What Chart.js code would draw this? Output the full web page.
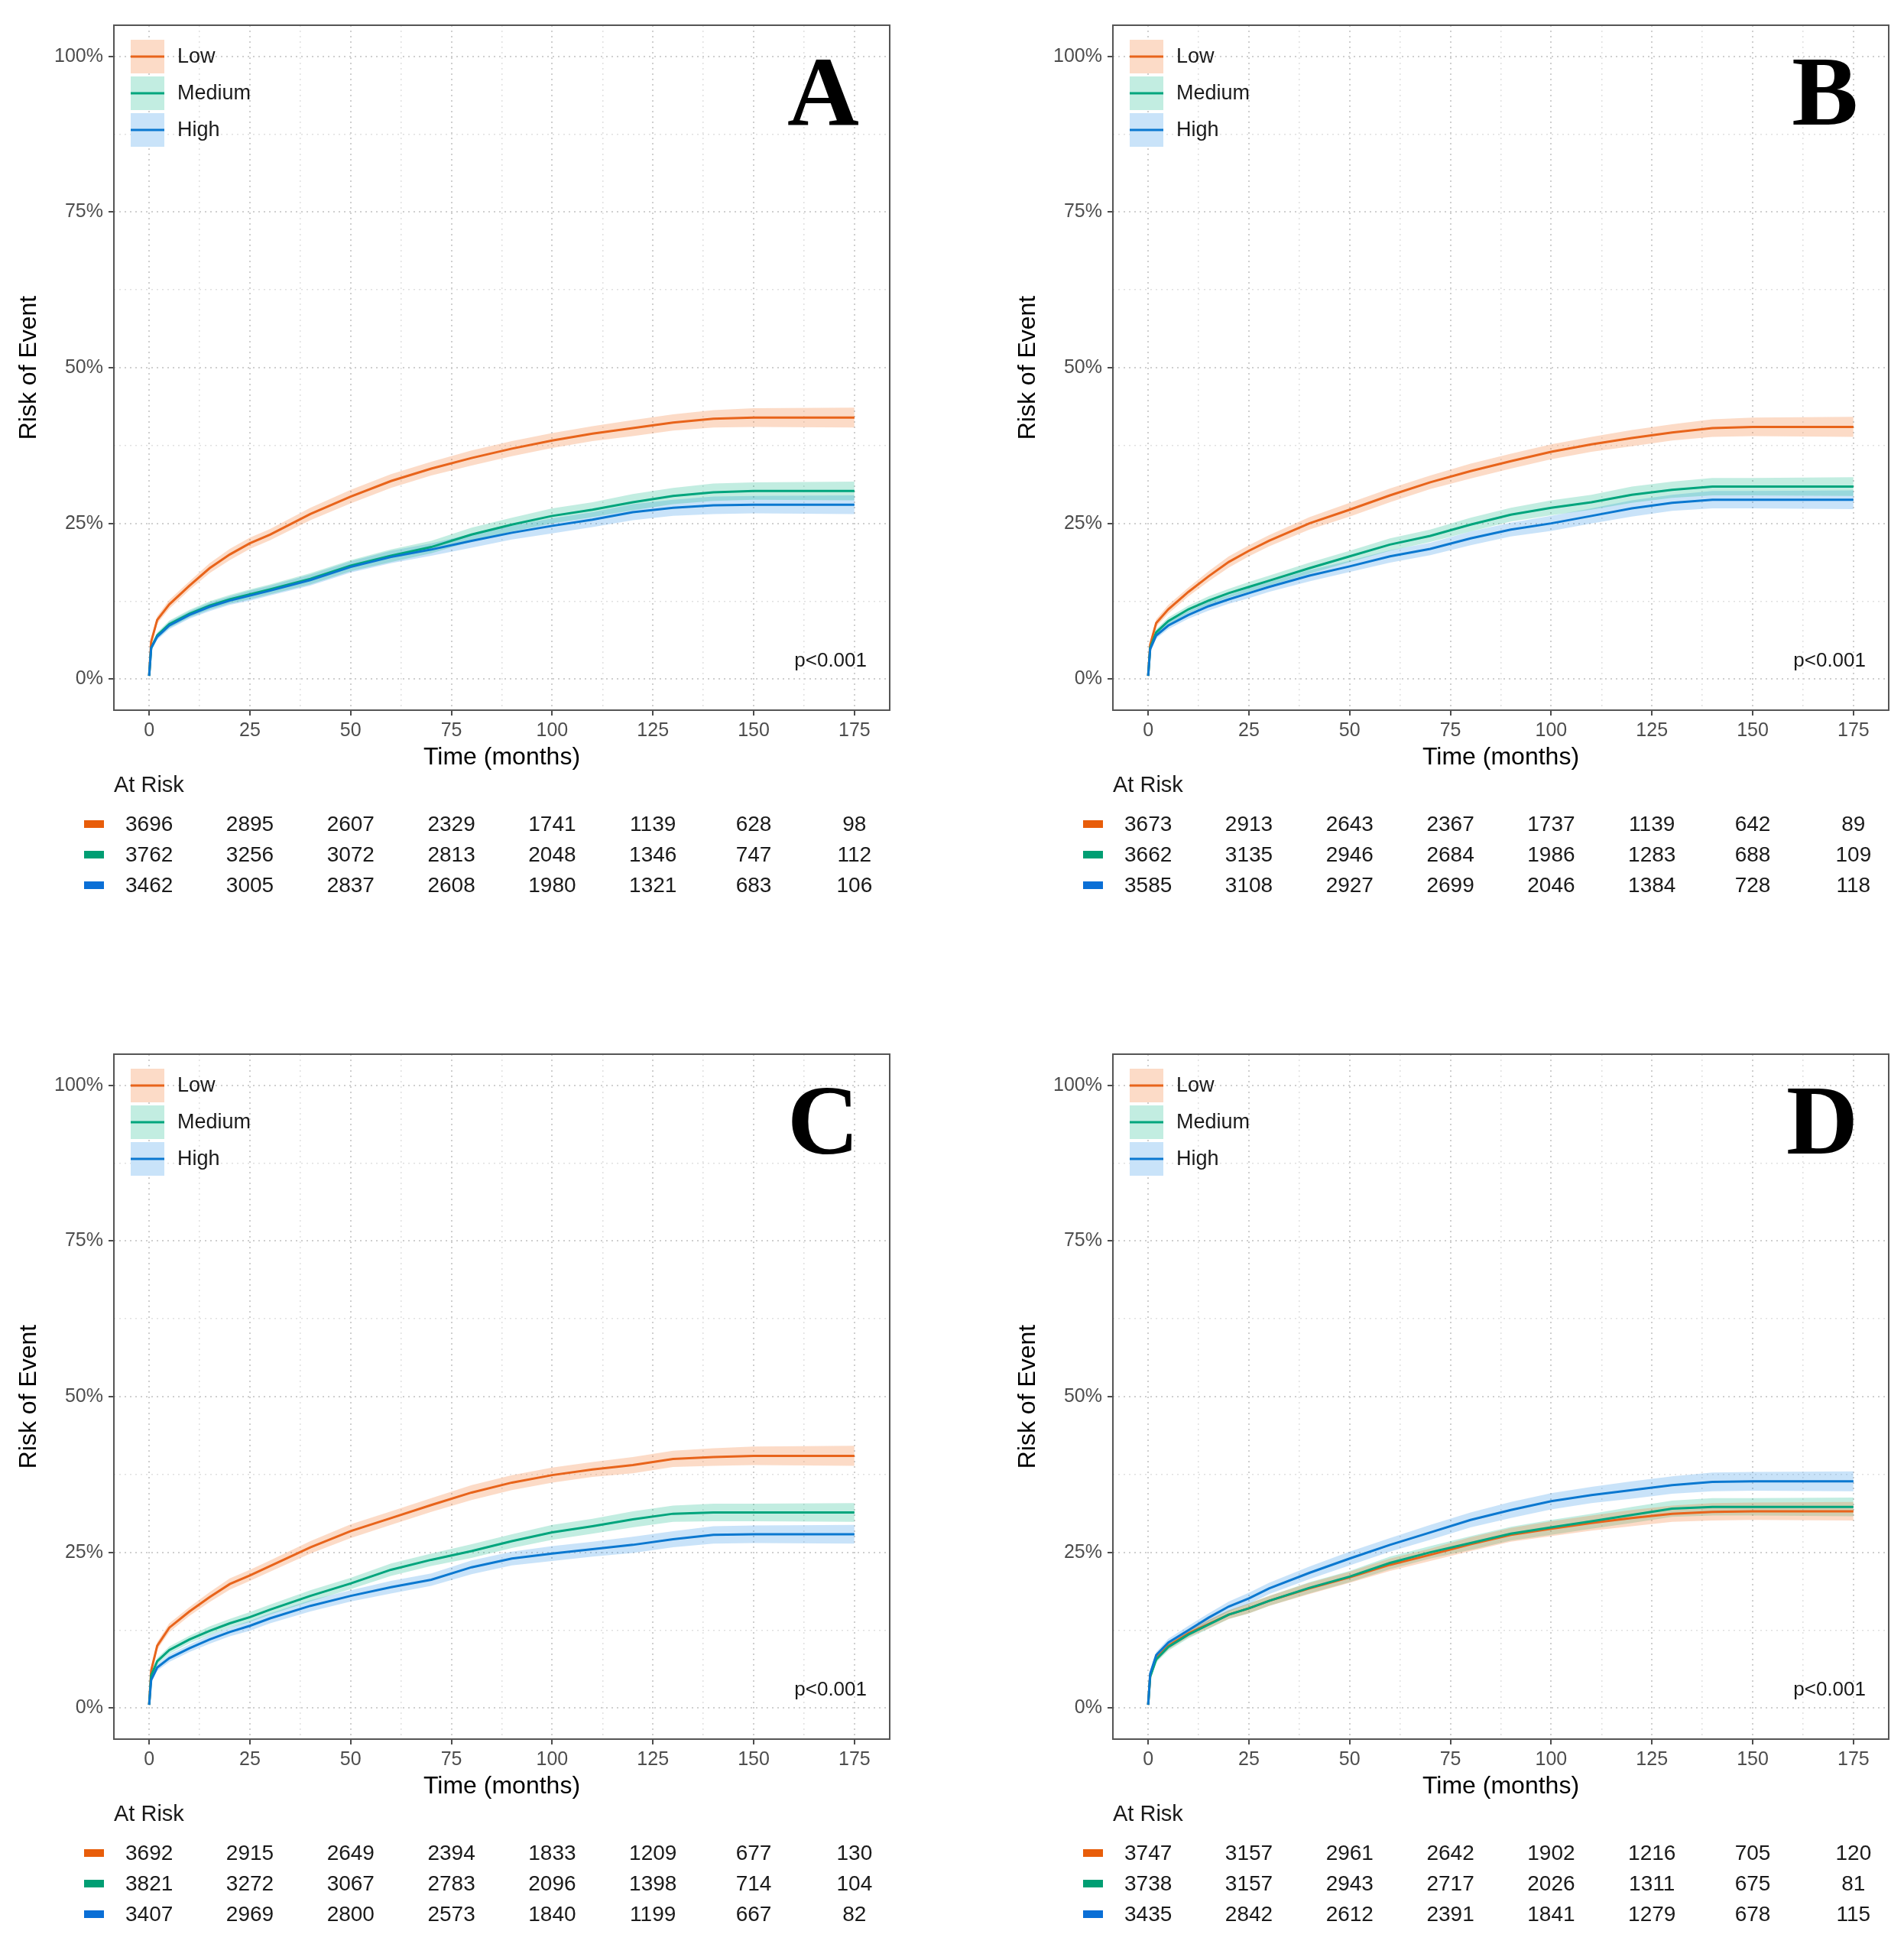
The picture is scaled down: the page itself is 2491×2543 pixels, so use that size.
<!DOCTYPE html>
<html>
<head>
<meta charset="utf-8">
<script src="https://cdn.jsdelivr.net/npm/chart.js@4.4.1/dist/chart.umd.min.js"></script>
<style>
  html, body { margin: 0; padding: 0; background: #fff; }
  body { width: 2491px; height: 2543px; position: relative; overflow: hidden; }
  canvas { position: absolute; }
</style>
</head>
<body>
<canvas id="panelA" width="1184" height="1197" style="left:0px;top:0px"></canvas>
<canvas id="panelB" width="1184" height="1197" style="left:1307px;top:0px"></canvas>
<canvas id="panelC" width="1184" height="1197" style="left:0px;top:1346px"></canvas>
<canvas id="panelD" width="1184" height="1197" style="left:1307px;top:1346px"></canvas>
<script>
const times = [0, 0.5, 2, 5, 10, 15, 20, 25, 30, 40, 50, 60, 70, 80, 90, 100, 110, 120, 130, 140, 150, 175];
const groups = ['Low', 'Medium', 'High'];
const xTickValues = [0, 25, 50, 75, 100, 125, 150, 175];
const yTickValues = [0, 25, 50, 75, 100];
const xGridValues = [0, 12.5, 25, 37.5, 50, 62.5, 75, 87.5, 100, 112.5, 125, 137.5, 150, 162.5, 175];
const yGridValues = [0, 12.5, 25, 37.5, 50, 62.5, 75, 87.5, 100];
const pValueText = 'p<0.001';

// Panel A - risk of event (%)
const lowA     = [0.5, 6.0, 9.5, 12.0, 15.0, 17.8, 20.0, 21.8, 23.2, 26.5, 29.3, 31.8, 33.8, 35.5, 37.0, 38.3, 39.4, 40.3, 41.2, 41.8, 42.0, 42.0];
const lowA_lo  = [0.3, 5.4, 8.9, 11.3, 14.3, 17.0, 19.1, 20.9, 22.3, 25.5, 28.2, 30.7, 32.7, 34.3, 35.8, 37.1, 38.2, 39.0, 39.9, 40.4, 40.5, 40.4];
const lowA_hi  = [0.7, 6.6, 10.1, 12.7, 15.7, 18.6, 20.9, 22.7, 24.1, 27.5, 30.4, 32.9, 34.9, 36.7, 38.2, 39.5, 40.6, 41.6, 42.5, 43.2, 43.5, 43.6];
const medA     = [0.5, 5.0, 7.0, 8.8, 10.5, 11.8, 12.8, 13.6, 14.4, 16.1, 18.2, 19.8, 21.2, 23.2, 24.8, 26.2, 27.2, 28.4, 29.4, 30.0, 30.2, 30.2];
const medA_lo  = [0.3, 4.5, 6.5, 8.2, 9.9, 11.1, 12.1, 12.8, 13.6, 15.2, 17.3, 18.8, 20.2, 22.1, 23.7, 25.0, 26.0, 27.1, 28.1, 28.6, 28.8, 28.7];
const medA_hi  = [0.7, 5.5, 7.5, 9.4, 11.1, 12.5, 13.5, 14.4, 15.2, 17.0, 19.1, 20.8, 22.2, 24.3, 25.9, 27.4, 28.4, 29.7, 30.7, 31.4, 31.6, 31.7];
const highA    = [0.5, 5.0, 6.8, 8.6, 10.3, 11.6, 12.6, 13.4, 14.2, 15.9, 18.0, 19.6, 20.8, 22.2, 23.5, 24.6, 25.6, 26.8, 27.5, 27.9, 28.0, 28.0];
const highA_lo = [0.3, 4.5, 6.3, 8.0, 9.7, 10.9, 11.9, 12.6, 13.4, 15.0, 17.1, 18.6, 19.8, 21.1, 22.4, 23.4, 24.4, 25.5, 26.2, 26.5, 26.6, 26.5];
const highA_hi = [0.7, 5.5, 7.3, 9.2, 10.9, 12.3, 13.3, 14.2, 15.0, 16.8, 18.9, 20.6, 21.8, 23.3, 24.6, 25.8, 26.8, 28.1, 28.8, 29.3, 29.4, 29.5];

// Panel B
const lowB     = [0.5, 5.5, 9.0, 11.2, 14.0, 16.5, 18.8, 20.6, 22.2, 25.0, 27.2, 29.5, 31.6, 33.4, 35.0, 36.5, 37.7, 38.7, 39.6, 40.3, 40.5, 40.5];
const lowB_lo  = [0.3, 4.9, 8.4, 10.5, 13.3, 15.7, 17.9, 19.7, 21.3, 24.0, 26.1, 28.4, 30.5, 32.2, 33.8, 35.3, 36.5, 37.4, 38.3, 38.9, 39.0, 38.9];
const lowB_hi  = [0.7, 6.1, 9.6, 11.9, 14.7, 17.3, 19.7, 21.5, 23.1, 26.0, 28.3, 30.6, 32.7, 34.6, 36.2, 37.7, 38.9, 40.0, 40.9, 41.7, 42.0, 42.1];
const medB     = [0.5, 5.0, 7.5, 9.3, 11.2, 12.6, 13.8, 14.8, 15.8, 17.8, 19.7, 21.6, 23.0, 24.8, 26.4, 27.5, 28.4, 29.6, 30.4, 30.9, 30.9, 30.9];
const medB_lo  = [0.3, 4.5, 7.0, 8.7, 10.6, 11.9, 13.1, 14.0, 15.0, 16.9, 18.8, 20.6, 22.0, 23.7, 25.3, 26.3, 27.2, 28.3, 29.1, 29.5, 29.5, 29.4];
const medB_hi  = [0.7, 5.5, 8.0, 9.9, 11.8, 13.3, 14.5, 15.6, 16.6, 18.7, 20.6, 22.6, 24.0, 25.9, 27.5, 28.7, 29.6, 30.9, 31.7, 32.3, 32.3, 32.4];
const highB    = [0.5, 4.8, 7.0, 8.6, 10.3, 11.7, 12.8, 13.8, 14.8, 16.6, 18.1, 19.7, 20.9, 22.6, 24.0, 25.0, 26.2, 27.4, 28.3, 28.8, 28.8, 28.8];
const highB_lo = [0.3, 4.3, 6.5, 8.0, 9.7, 11.0, 12.1, 13.0, 14.0, 15.7, 17.2, 18.7, 19.9, 21.5, 22.9, 23.8, 25.0, 26.1, 27.0, 27.4, 27.4, 27.3];
const highB_hi = [0.7, 5.3, 7.5, 9.2, 10.9, 12.4, 13.5, 14.6, 15.6, 17.5, 19.0, 20.7, 21.9, 23.7, 25.1, 26.2, 27.4, 28.7, 29.6, 30.2, 30.2, 30.3];

// Panel C
const lowC     = [0.5, 6.0, 10.0, 12.9, 15.5, 17.8, 19.9, 21.3, 22.8, 25.8, 28.4, 30.5, 32.6, 34.6, 36.2, 37.4, 38.3, 39.0, 40.0, 40.3, 40.5, 40.5];
const lowC_lo  = [0.3, 5.4, 9.4, 12.2, 14.8, 17.0, 19.0, 20.4, 21.9, 24.8, 27.3, 29.4, 31.5, 33.4, 35.0, 36.2, 37.1, 37.7, 38.7, 38.9, 39.0, 38.9];
const lowC_hi  = [0.7, 6.6, 10.6, 13.6, 16.2, 18.6, 20.8, 22.2, 23.7, 26.8, 29.5, 31.6, 33.7, 35.8, 37.4, 38.6, 39.5, 40.3, 41.3, 41.7, 42.0, 42.1];
const medC     = [0.5, 5.2, 7.5, 9.3, 11.0, 12.4, 13.6, 14.6, 15.8, 18.0, 20.0, 22.2, 23.8, 25.2, 26.8, 28.2, 29.2, 30.3, 31.2, 31.4, 31.4, 31.4];
const medC_lo  = [0.3, 4.7, 7.0, 8.7, 10.4, 11.7, 12.9, 13.8, 15.0, 17.1, 19.1, 21.2, 22.8, 24.1, 25.7, 27.0, 28.0, 29.0, 29.9, 30.0, 30.0, 29.9];
const medC_hi  = [0.7, 5.7, 8.0, 9.9, 11.6, 13.1, 14.3, 15.4, 16.6, 18.9, 20.9, 23.2, 24.8, 26.3, 27.9, 29.4, 30.4, 31.6, 32.5, 32.8, 32.8, 32.9];
const highC    = [0.5, 4.5, 6.5, 8.0, 9.6, 11.0, 12.2, 13.2, 14.4, 16.4, 18.0, 19.4, 20.6, 22.6, 24.0, 24.8, 25.5, 26.2, 27.1, 27.8, 27.9, 27.9];
const highC_lo = [0.3, 4.0, 6.0, 7.4, 9.0, 10.3, 11.5, 12.4, 13.6, 15.5, 17.1, 18.4, 19.6, 21.5, 22.9, 23.6, 24.3, 24.9, 25.8, 26.4, 26.5, 26.4];
const highC_hi = [0.7, 5.0, 7.0, 8.6, 10.2, 11.7, 12.9, 14.0, 15.2, 17.3, 18.9, 20.4, 21.6, 23.7, 25.1, 26.0, 26.7, 27.5, 28.4, 29.2, 29.3, 29.4];

// Panel D
const lowD     = [0.5, 5.2, 8.0, 10.0, 12.0, 13.5, 15.0, 16.0, 17.2, 19.2, 21.0, 23.0, 24.6, 26.3, 27.8, 28.8, 29.7, 30.5, 31.2, 31.5, 31.6, 31.6];
const lowD_lo  = [0.3, 4.7, 7.5, 9.4, 11.4, 12.8, 14.3, 15.2, 16.4, 18.3, 20.1, 22.0, 23.6, 25.2, 26.7, 27.6, 28.5, 29.2, 29.9, 30.1, 30.2, 30.1];
const lowD_hi  = [0.7, 5.7, 8.5, 10.6, 12.6, 14.2, 15.7, 16.8, 18.0, 20.1, 21.9, 24.0, 25.6, 27.4, 28.9, 30.0, 30.9, 31.8, 32.5, 32.9, 33.0, 33.1];
const medD     = [0.5, 5.0, 7.8, 9.8, 11.8, 13.4, 15.0, 16.0, 17.2, 19.3, 21.1, 23.3, 25.0, 26.5, 28.0, 29.0, 30.0, 31.0, 32.0, 32.3, 32.3, 32.3];
const medD_lo  = [0.3, 4.5, 7.3, 9.2, 11.2, 12.7, 14.3, 15.2, 16.4, 18.4, 20.2, 22.3, 24.0, 25.4, 26.9, 27.8, 28.8, 29.7, 30.7, 30.9, 30.9, 30.8];
const medD_hi  = [0.7, 5.5, 8.3, 10.4, 12.4, 14.1, 15.7, 16.8, 18.0, 20.2, 22.0, 24.3, 26.0, 27.6, 29.1, 30.2, 31.2, 32.3, 33.3, 33.7, 33.7, 33.8];
const highD    = [0.5, 5.5, 8.5, 10.5, 12.5, 14.5, 16.3, 17.6, 19.2, 21.7, 24.0, 26.2, 28.2, 30.2, 31.8, 33.2, 34.2, 35.0, 35.8, 36.3, 36.4, 36.4];
const highD_lo = [0.3, 5.0, 8.0, 9.9, 11.8, 13.8, 15.5, 16.7, 18.3, 20.7, 22.9, 25.1, 27.0, 29.0, 30.5, 31.9, 32.9, 33.6, 34.4, 34.8, 34.9, 34.8];
const highD_hi = [0.7, 6.0, 9.0, 11.1, 13.2, 15.2, 17.1, 18.5, 20.1, 22.7, 25.1, 27.3, 29.4, 31.4, 33.1, 34.5, 35.5, 36.4, 37.2, 37.8, 37.9, 38.0];

// numbers at risk at 0, 25, ... 175 months
const atRiskLowA  = [3696, 2895, 2607, 2329, 1741, 1139, 628, 98];
const atRiskMedA  = [3762, 3256, 3072, 2813, 2048, 1346, 747, 112];
const atRiskHighA = [3462, 3005, 2837, 2608, 1980, 1321, 683, 106];
const atRiskLowB  = [3673, 2913, 2643, 2367, 1737, 1139, 642, 89];
const atRiskMedB  = [3662, 3135, 2946, 2684, 1986, 1283, 688, 109];
const atRiskHighB = [3585, 3108, 2927, 2699, 2046, 1384, 728, 118];
const atRiskLowC  = [3692, 2915, 2649, 2394, 1833, 1209, 677, 130];
const atRiskMedC  = [3821, 3272, 3067, 2783, 2096, 1398, 714, 104];
const atRiskHighC = [3407, 2969, 2800, 2573, 1840, 1199, 667, 82];
const atRiskLowD  = [3747, 3157, 2961, 2642, 1902, 1216, 705, 120];
const atRiskMedD  = [3738, 3157, 2943, 2717, 2026, 1311, 675, 81];
const atRiskHighD = [3435, 2842, 2612, 2391, 1841, 1279, 678, 115];

const lineColors = ['#E8641B', '#00A57D', '#0B78D0'];
const bandColors = ['rgba(244,125,55,0.28)', 'rgba(0,178,130,0.24)', 'rgba(30,140,230,0.24)'];
const swatchColors = ['#E85D0A', '#009E73', '#0A6FD6'];

const FONT = "'Liberation Sans', Arial, Helvetica, sans-serif";
Chart.defaults.font.family = FONT;

function pts(arr) {
  return times.map((t, i) => ({ x: t, y: arr[i] }));
}

// legend, panel letter, p value, axis titles and the at-risk table
const panelDecor = {
  id: 'panelDecor',
  afterDraw(chart, args, opts) {
    const { ctx, chartArea: area, scales } = chart;
    const xs = scales.x;
    ctx.save();

    // panel border
    ctx.strokeStyle = '#555555';
    ctx.lineWidth = 2;
    ctx.strokeRect(area.left, area.top, area.right - area.left, area.bottom - area.top);

    // legend inside the panel
    groups.forEach((g, i) => {
      const kx = area.left + 22;
      const cy = area.top + 41 + i * 48;
      ctx.fillStyle = '#ffffff';
      ctx.fillRect(kx, cy - 22, 44, 44);
      ctx.fillStyle = bandColors[i];
      ctx.fillRect(kx, cy - 22, 44, 44);
      ctx.strokeStyle = lineColors[i];
      ctx.lineWidth = 3;
      ctx.beginPath();
      ctx.moveTo(kx, cy);
      ctx.lineTo(kx + 44, cy);
      ctx.stroke();
      ctx.fillStyle = '#1a1a1a';
      ctx.font = '27px ' + FONT;
      ctx.textAlign = 'left';
      ctx.textBaseline = 'middle';
      ctx.fillText(g, kx + 61, cy + 1);
    });

    // panel letter
    ctx.fillStyle = '#000000';
    ctx.font = 'bold 130px "Liberation Serif", "Times New Roman", serif';
    ctx.textAlign = 'right';
    ctx.textBaseline = 'alphabetic';
    ctx.fillText(opts.letter, area.right - 40, area.top + 130);

    // p value
    ctx.font = '26px ' + FONT;
    ctx.fillStyle = '#1a1a1a';
    ctx.textBaseline = 'middle';
    ctx.fillText(pValueText, area.right - 30, area.bottom - 64);

    // y axis title
    ctx.save();
    ctx.translate(38, (area.top + area.bottom) / 2);
    ctx.rotate(-Math.PI / 2);
    ctx.textAlign = 'center';
    ctx.font = '32px ' + FONT;
    ctx.fillStyle = '#000000';
    ctx.fillText('Risk of Event', 0, 0);
    ctx.restore();

    // x axis title
    const xMid = (xs.getPixelForValue(xTickValues[0]) + xs.getPixelForValue(xTickValues[xTickValues.length - 1])) / 2;
    ctx.textAlign = 'center';
    ctx.font = '32px ' + FONT;
    ctx.fillStyle = '#000000';
    ctx.fillText('Time (months)', xMid, area.bottom + 62);

    // at risk table
    ctx.textAlign = 'left';
    ctx.font = '29px ' + FONT;
    ctx.fillStyle = '#1a1a1a';
    ctx.fillText('At Risk', area.left, area.bottom + 99);

    opts.atRisk.forEach((row, r) => {
      const ry = area.bottom + 149 + r * 40;
      ctx.fillStyle = swatchColors[r];
      ctx.fillRect(110, ry - 5, 26, 10);
      ctx.fillStyle = '#1a1a1a';
      ctx.font = '28px ' + FONT;
      ctx.textAlign = 'center';
      row.forEach((n, j) => {
        ctx.fillText(String(n), xs.getPixelForValue(xTickValues[j]), ry + 1);
      });
    });

    ctx.restore();
  }
};

function makePanel(canvasId, letter, curves, atRisk) {
  const datasets = [];
  curves.forEach((c, g) => {
    datasets.push({
      label: groups[g],
      data: pts(c[0]),
      borderColor: lineColors[g],
      borderWidth: 3,
      pointRadius: 0,
      tension: 0,
      fill: false,
      order: 3 - g
    });
  });
  curves.forEach((c, g) => {
    const upperIndex = datasets.length;
    datasets.push({
      label: groups[g] + ' upper',
      data: pts(c[2]),
      borderColor: 'transparent',
      borderWidth: 0,
      pointRadius: 0,
      backgroundColor: bandColors[g],
      fill: upperIndex + 1,
      order: 10
    });
    datasets.push({
      label: groups[g] + ' lower',
      data: pts(c[1]),
      borderColor: 'transparent',
      borderWidth: 0,
      pointRadius: 0,
      fill: false,
      order: 10
    });
  });

  new Chart(document.getElementById(canvasId), {
    type: 'line',
    data: { datasets: datasets },
    options: {
      responsive: false,
      animation: false,
      devicePixelRatio: 1,
      layout: { padding: { left: 0, top: 33, right: 20, bottom: 0 } },
      plugins: {
        legend: { display: false },
        tooltip: { enabled: false },
        panelDecor: { letter: letter, atRisk: atRisk }
      },
      scales: {
        x: {
          type: 'linear',
          min: -8.75,
          max: 183.75,
          afterBuildTicks: s => { s.ticks = xGridValues.map(v => ({ value: v })); },
          afterFit: s => { s.height = 268; },
          ticks: {
            autoSkip: false,
            maxRotation: 0,
            padding: 5,
            color: '#4d4d4d',
            font: { size: 25 },
            callback: v => xTickValues.includes(v) ? String(v) : ''
          },
          grid: {
            color: c => xTickValues.includes(c.tick.value) ? '#cfcfcf' : '#e0e0e0',
            lineWidth: c => xTickValues.includes(c.tick.value) ? 2 : 1.5,
            tickLength: 7,
            tickWidth: 2,
            tickColor: c => xTickValues.includes(c.tick.value) ? '#4d4d4d' : 'transparent'
          },
          border: { display: false, dash: [2, 5] }
        },
        y: {
          type: 'linear',
          min: -5,
          max: 105,
          afterBuildTicks: s => { s.ticks = yGridValues.map(v => ({ value: v })); },
          afterFit: s => { s.width = 149; },
          ticks: {
            autoSkip: false,
            padding: 7,
            color: '#4d4d4d',
            font: { size: 25 },
            callback: v => yTickValues.includes(v) ? v + '%' : ''
          },
          grid: {
            color: c => yTickValues.includes(c.tick.value) ? '#cfcfcf' : '#e0e0e0',
            lineWidth: c => yTickValues.includes(c.tick.value) ? 2 : 1.5,
            tickLength: 7,
            tickWidth: 2,
            tickColor: c => yTickValues.includes(c.tick.value) ? '#4d4d4d' : 'transparent'
          },
          border: { display: false, dash: [2, 5] }
        }
      }
    },
    plugins: [panelDecor]
  });
}

makePanel('panelA', 'A',
  [[lowA, lowA_lo, lowA_hi], [medA, medA_lo, medA_hi], [highA, highA_lo, highA_hi]],
  [atRiskLowA, atRiskMedA, atRiskHighA]);
makePanel('panelB', 'B',
  [[lowB, lowB_lo, lowB_hi], [medB, medB_lo, medB_hi], [highB, highB_lo, highB_hi]],
  [atRiskLowB, atRiskMedB, atRiskHighB]);
makePanel('panelC', 'C',
  [[lowC, lowC_lo, lowC_hi], [medC, medC_lo, medC_hi], [highC, highC_lo, highC_hi]],
  [atRiskLowC, atRiskMedC, atRiskHighC]);
makePanel('panelD', 'D',
  [[lowD, lowD_lo, lowD_hi], [medD, medD_lo, medD_hi], [highD, highD_lo, highD_hi]],
  [atRiskLowD, atRiskMedD, atRiskHighD]);
</script>
</body>
</html>
